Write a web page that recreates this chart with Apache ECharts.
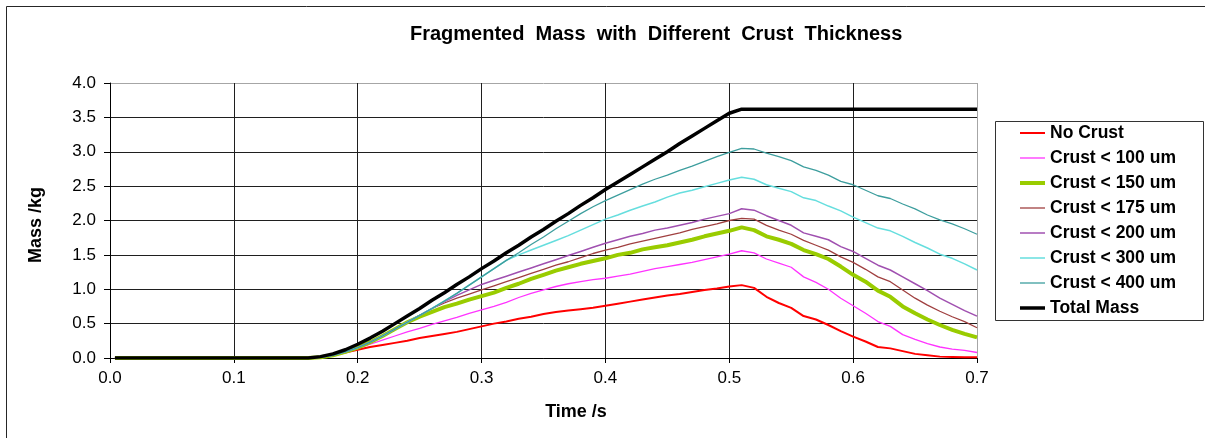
<!DOCTYPE html>
<html>
<head>
<meta charset="utf-8">
<title>Fragmented Mass with Different Crust Thickness</title>
<script src="https://cdn.jsdelivr.net/npm/echarts@6/dist/echarts.min.js"></script>
<style>
  html, body { margin: 0; padding: 0; background: #ffffff; }
  #chart { width: 1205px; height: 438px; }
</style>
</head>
<body>
<div id="chart"></div>
<script>
// Time samples (s)
const time = [0.004, 0.16, 0.17, 0.18, 0.19, 0.20, 0.21, 0.22, 0.23, 0.24, 0.25,
  0.26, 0.27, 0.28, 0.29, 0.30, 0.31, 0.32, 0.33, 0.34, 0.35,
  0.36, 0.37, 0.38, 0.39, 0.40, 0.41, 0.42, 0.43, 0.44, 0.45,
  0.46, 0.47, 0.48, 0.49, 0.50, 0.51, 0.52, 0.53, 0.54, 0.55,
  0.56, 0.57, 0.58, 0.59, 0.60, 0.61, 0.62, 0.63, 0.64, 0.65,
  0.66, 0.67, 0.68, 0.69, 0.70];

// Fragmented mass (kg) per crust class
const noCrust = [0, 0, 0.01, 0.04, 0.08, 0.12, 0.16, 0.19, 0.22, 0.25, 0.29,
  0.32, 0.35, 0.38, 0.42, 0.46, 0.50, 0.53, 0.57, 0.60, 0.64,
  0.67, 0.69, 0.71, 0.73, 0.76, 0.79, 0.82, 0.85, 0.88, 0.91,
  0.93, 0.96, 0.99, 1.01, 1.04, 1.06, 1.02, 0.89, 0.80, 0.73,
  0.61, 0.56, 0.48, 0.39, 0.31, 0.24, 0.16, 0.14, 0.10, 0.06,
  0.04, 0.02, 0.015, 0.01, 0.01];

const crust100 = [0, 0, 0.01, 0.05, 0.09, 0.14, 0.20, 0.26, 0.32, 0.38, 0.43,
  0.49, 0.54, 0.59, 0.65, 0.70, 0.75, 0.81, 0.88, 0.94, 0.99,
  1.04, 1.08, 1.11, 1.14, 1.16, 1.19, 1.22, 1.26, 1.30, 1.33,
  1.36, 1.39, 1.43, 1.47, 1.51, 1.56, 1.53, 1.44, 1.38, 1.32,
  1.18, 1.10, 1.00, 0.87, 0.76, 0.65, 0.53, 0.46, 0.34, 0.27,
  0.21, 0.16, 0.13, 0.11, 0.08];

const crust150 = [0, 0, 0.01, 0.04, 0.09, 0.15, 0.23, 0.32, 0.42, 0.52, 0.60,
  0.67, 0.74, 0.79, 0.85, 0.90, 0.95, 1.02, 1.08, 1.15, 1.21,
  1.27, 1.32, 1.37, 1.41, 1.45, 1.50, 1.53, 1.58, 1.61, 1.64,
  1.68, 1.72, 1.77, 1.81, 1.85, 1.90, 1.86, 1.77, 1.72, 1.66,
  1.57, 1.51, 1.44, 1.33, 1.21, 1.11, 0.98, 0.89, 0.75, 0.65,
  0.56, 0.48, 0.41, 0.35, 0.30];

const crust175 = [0, 0, 0.01, 0.04, 0.09, 0.15, 0.23, 0.32, 0.42, 0.52, 0.62,
  0.72, 0.80, 0.87, 0.93, 0.99, 1.05, 1.11, 1.17, 1.23, 1.29,
  1.35, 1.40, 1.46, 1.52, 1.57, 1.61, 1.66, 1.70, 1.74, 1.78,
  1.82, 1.87, 1.91, 1.95, 2.00, 2.03, 2.02, 1.93, 1.86, 1.80,
  1.71, 1.64, 1.57, 1.47, 1.39, 1.29, 1.18, 1.11, 0.99, 0.87,
  0.77, 0.68, 0.60, 0.53, 0.44];

const crust200 = [0, 0, 0.01, 0.04, 0.09, 0.15, 0.23, 0.32, 0.42, 0.52, 0.62,
  0.72, 0.82, 0.91, 0.99, 1.07, 1.13, 1.19, 1.25, 1.31, 1.37,
  1.43, 1.49, 1.55, 1.61, 1.67, 1.72, 1.77, 1.81, 1.86, 1.89,
  1.93, 1.97, 2.02, 2.06, 2.10, 2.17, 2.15, 2.07, 2.00, 1.93,
  1.82, 1.77, 1.72, 1.62, 1.55, 1.45, 1.35, 1.28, 1.18, 1.08,
  0.98, 0.87, 0.78, 0.69, 0.61];

const crust300 = [0, 0, 0.01, 0.04, 0.09, 0.15, 0.23, 0.32, 0.42, 0.52, 0.62,
  0.72, 0.83, 0.94, 1.06, 1.18, 1.30, 1.42, 1.50, 1.57, 1.64,
  1.71, 1.78, 1.86, 1.94, 2.02, 2.08, 2.15, 2.21, 2.27, 2.34,
  2.40, 2.44, 2.49, 2.54, 2.59, 2.63, 2.60, 2.52, 2.47, 2.42,
  2.33, 2.29, 2.21, 2.14, 2.05, 1.97, 1.89, 1.85, 1.77, 1.68,
  1.60, 1.51, 1.45, 1.37, 1.28];

const crust400 = [0, 0, 0.01, 0.04, 0.09, 0.15, 0.23, 0.32, 0.42, 0.52, 0.62,
  0.72, 0.83, 0.94, 1.06, 1.18, 1.30, 1.42, 1.53, 1.65, 1.76,
  1.88, 1.99, 2.10, 2.20, 2.29, 2.37, 2.45, 2.53, 2.60, 2.66,
  2.73, 2.79, 2.86, 2.93, 2.99, 3.05, 3.04, 2.98, 2.93, 2.87,
  2.78, 2.73, 2.66, 2.57, 2.52, 2.44, 2.36, 2.32, 2.24, 2.17,
  2.08, 2.01, 1.95, 1.88, 1.80];

const totalMass = [0, 0, 0.02, 0.06, 0.12, 0.20, 0.29, 0.39, 0.50, 0.61, 0.72,
  0.84, 0.95, 1.07, 1.18, 1.30, 1.41, 1.53, 1.64, 1.76, 1.87,
  1.99, 2.10, 2.22, 2.33, 2.45, 2.56, 2.67, 2.78, 2.89, 3.00,
  3.12, 3.23, 3.34, 3.45, 3.56, 3.62, 3.62, 3.62, 3.62, 3.62,
  3.62, 3.62, 3.62, 3.62, 3.62, 3.62, 3.62, 3.62, 3.62, 3.62,
  3.62, 3.62, 3.62, 3.62, 3.62];

const seriesNames = ['No Crust', 'Crust < 100 um', 'Crust < 150 um', 'Crust < 175 um',
  'Crust < 200 um', 'Crust < 300 um', 'Crust < 400 um', 'Total Mass'];
const seriesValues = [noCrust, crust100, crust150, crust175, crust200, crust300, crust400, totalMass];
const seriesColors = ['#ff0000', '#ff33ff', '#99cc00', '#a04040', '#a050b0', '#66dede', '#3d9e9e', '#000000'];
const seriesWidths = [2, 1.3, 4, 1.3, 1.5, 1.5, 1.3, 3.5];

const FONT = '"Liberation Sans", Arial, sans-serif';
const LEGEND_ICON_W = 25;

const chart = echarts.init(document.getElementById('chart'), null, { renderer: 'canvas' });

const series = seriesNames.map((name, i) => ({
  name: name,
  type: 'line',
  data: time.map((t, k) => [t, seriesValues[i][k]]),
  symbol: 'none',
  smooth: false,
  color: seriesColors[i],
  itemStyle: { color: seriesColors[i] },
  lineStyle: { color: seriesColors[i], width: seriesWidths[i] },
  z: 3 + i
}));

// Legend swatches: flat bars as thick as each series' line
const legendData = seriesNames.map((name, i) => {
  const h = Math.max(1, seriesWidths[i]);
  return {
    name: name,
    icon: 'path://M0,0L' + LEGEND_ICON_W + ',0L' + LEGEND_ICON_W + ',' + h + 'L0,' + h + 'Z'
  };
});

const gridDark = '#1f1f1f';

chart.setOption({
  animation: false,
  backgroundColor: '#ffffff',
  textStyle: { fontFamily: FONT },
  title: {
    text: 'Fragmented  Mass  with  Different  Crust  Thickness',
    left: 410,
    top: 24,
    padding: 0,
    textStyle: { fontFamily: FONT, fontSize: 20, fontWeight: 'bold', color: '#000' }
  },
  grid: { left: 110, right: 228, top: 83, bottom: 80, containLabel: false },
  legend: {
    orient: 'vertical',
    left: 1020,
    top: 124,
    padding: 0,
    itemWidth: LEGEND_ICON_W,
    itemHeight: 14,
    itemGap: 7,
    symbolKeepAspect: true,
    data: legendData,
    textStyle: { fontFamily: FONT, fontSize: 17.5, fontWeight: 'bold', color: '#000' }
  },
  xAxis: {
    type: 'value',
    min: 0,
    max: 0.7,
    interval: 0.1,
    axisLine: { show: true, onZero: false, lineStyle: { color: '#000', width: 1 } },
    axisTick: { show: true, length: 5, lineStyle: { color: '#000' } },
    axisLabel: {
      margin: 12,
      fontFamily: FONT,
      fontSize: 17,
      color: '#000',
      formatter: v => v.toFixed(1)
    },
    splitLine: {
      show: true,
      lineStyle: { color: [gridDark, gridDark, gridDark, gridDark, gridDark, gridDark, gridDark, '#a6a6a6'], width: 1 }
    }
  },
  yAxis: {
    type: 'value',
    min: 0,
    max: 4,
    interval: 0.5,
    axisLine: { show: true, onZero: false, lineStyle: { color: '#000', width: 1 } },
    axisTick: { show: true, length: 6, lineStyle: { color: '#000' } },
    axisLabel: {
      margin: 14,
      fontFamily: FONT,
      fontSize: 17,
      color: '#000',
      formatter: v => v.toFixed(1)
    },
    splitLine: {
      show: true,
      lineStyle: { color: [gridDark, gridDark, gridDark, gridDark, gridDark, gridDark, gridDark, gridDark, '#a6a6a6'], width: 1 }
    }
  },
  graphic: [
    {
      type: 'rect',
      silent: true,
      z: -1,
      shape: { x: 6.5, y: 6.5, width: 1400, height: 600 },
      style: { fill: null, stroke: '#262626', lineWidth: 1 }
    },
    {
      type: 'rect',
      silent: true,
      shape: { x: 995.5, y: 121.5, width: 208, height: 199 },
      style: { fill: null, stroke: '#333333', lineWidth: 1 }
    },
    {
      type: 'text',
      silent: true,
      x: 576,
      y: 412,
      style: {
        text: 'Time /s',
        font: 'bold 18px ' + FONT,
        fill: '#000',
        align: 'center',
        verticalAlign: 'middle'
      }
    },
    {
      type: 'text',
      silent: true,
      x: 36,
      y: 225,
      rotation: Math.PI / 2,
      style: {
        text: 'Mass /kg',
        font: 'bold 18px ' + FONT,
        fill: '#000',
        align: 'center',
        verticalAlign: 'middle'
      }
    }
  ],
  series: series
});
</script>
</body>
</html>
